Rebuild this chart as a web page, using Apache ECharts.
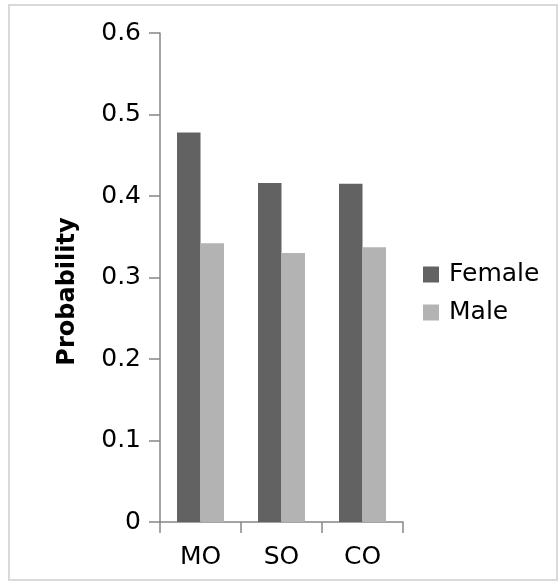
<!DOCTYPE html>
<html>
<head>
<meta charset="utf-8">
<script src="https://cdn.jsdelivr.net/npm/echarts@6/dist/echarts.min.js"></script>
<style>html,body{margin:0;padding:0;background:#fff}#c{width:558px;height:582px}</style>
</head>
<body>
<div id="c"></div>
<script>
var categories = ['MO', 'SO', 'CO'];
var femaleValues = [0.478, 0.416, 0.415];
var maleValues = [0.342, 0.330, 0.337];
var yTicks = [0, 0.1, 0.2, 0.3, 0.4, 0.5, 0.6];

var chart = echarts.init(document.getElementById('c'), null, {renderer: 'canvas'});
var font = 'DejaVu Sans';
chart.setOption({
  animation: false,
  backgroundColor: '#fff',
  graphic: [{
    type: 'rect',
    shape: {x: 9, y: 5, width: 548, height: 575},
    style: {fill: 'none', stroke: '#d9d9d9', lineWidth: 2},
    silent: true
  }],
  grid: {left: 160, top: 33, width: 243, height: 489, containLabel: false},
  legend: {
    orient: 'vertical',
    left: 423,
    top: 262,
    padding: 0,
    itemWidth: 16,
    itemHeight: 16,
    itemGap: 13,
    icon: 'rect',
    textStyle: {fontFamily: font, fontSize: 25, color: '#000', padding: [0, 0, 0, 5]},
    data: ['Female', 'Male']
  },
  xAxis: {
    type: 'category',
    data: categories,
    axisLine: {lineStyle: {color: '#868686', width: 1.5}},
    axisTick: {show: true, length: 11, lineStyle: {color: '#868686', width: 1.5}},
    axisLabel: {fontFamily: font, fontSize: 25, color: '#000', margin: 23}
  },
  yAxis: {
    type: 'value',
    min: 0,
    max: 0.6,
    interval: 0.1,
    name: 'Probability',
    nameLocation: 'middle',
    nameRotate: 90,
    nameGap: 80,
    nameTextStyle: {fontFamily: font, fontSize: 24, fontWeight: 'bold', color: '#000', padding: [0, 28, 0, 0]},
    axisLine: {show: true, lineStyle: {color: '#868686', width: 1.5}},
    axisTick: {show: true, length: 11, lineStyle: {color: '#868686', width: 1.5}},
    splitLine: {show: false},
    axisLabel: {
      fontFamily: font, fontSize: 25, color: '#000', margin: 19,
      formatter: function (v) {
        var t = yTicks.find(function (k) { return Math.abs(k - v) < 1e-9; });
        return t === 0 ? '0' : String(t);
      }
    }
  },
  series: [
    {name: 'Female', type: 'bar', data: femaleValues, barGap: '0%', barCategoryGap: '42%', itemStyle: {color: '#626262'}},
    {name: 'Male', type: 'bar', data: maleValues, itemStyle: {color: '#b3b3b3'}}
  ]
});
</script>
</body>
</html>
